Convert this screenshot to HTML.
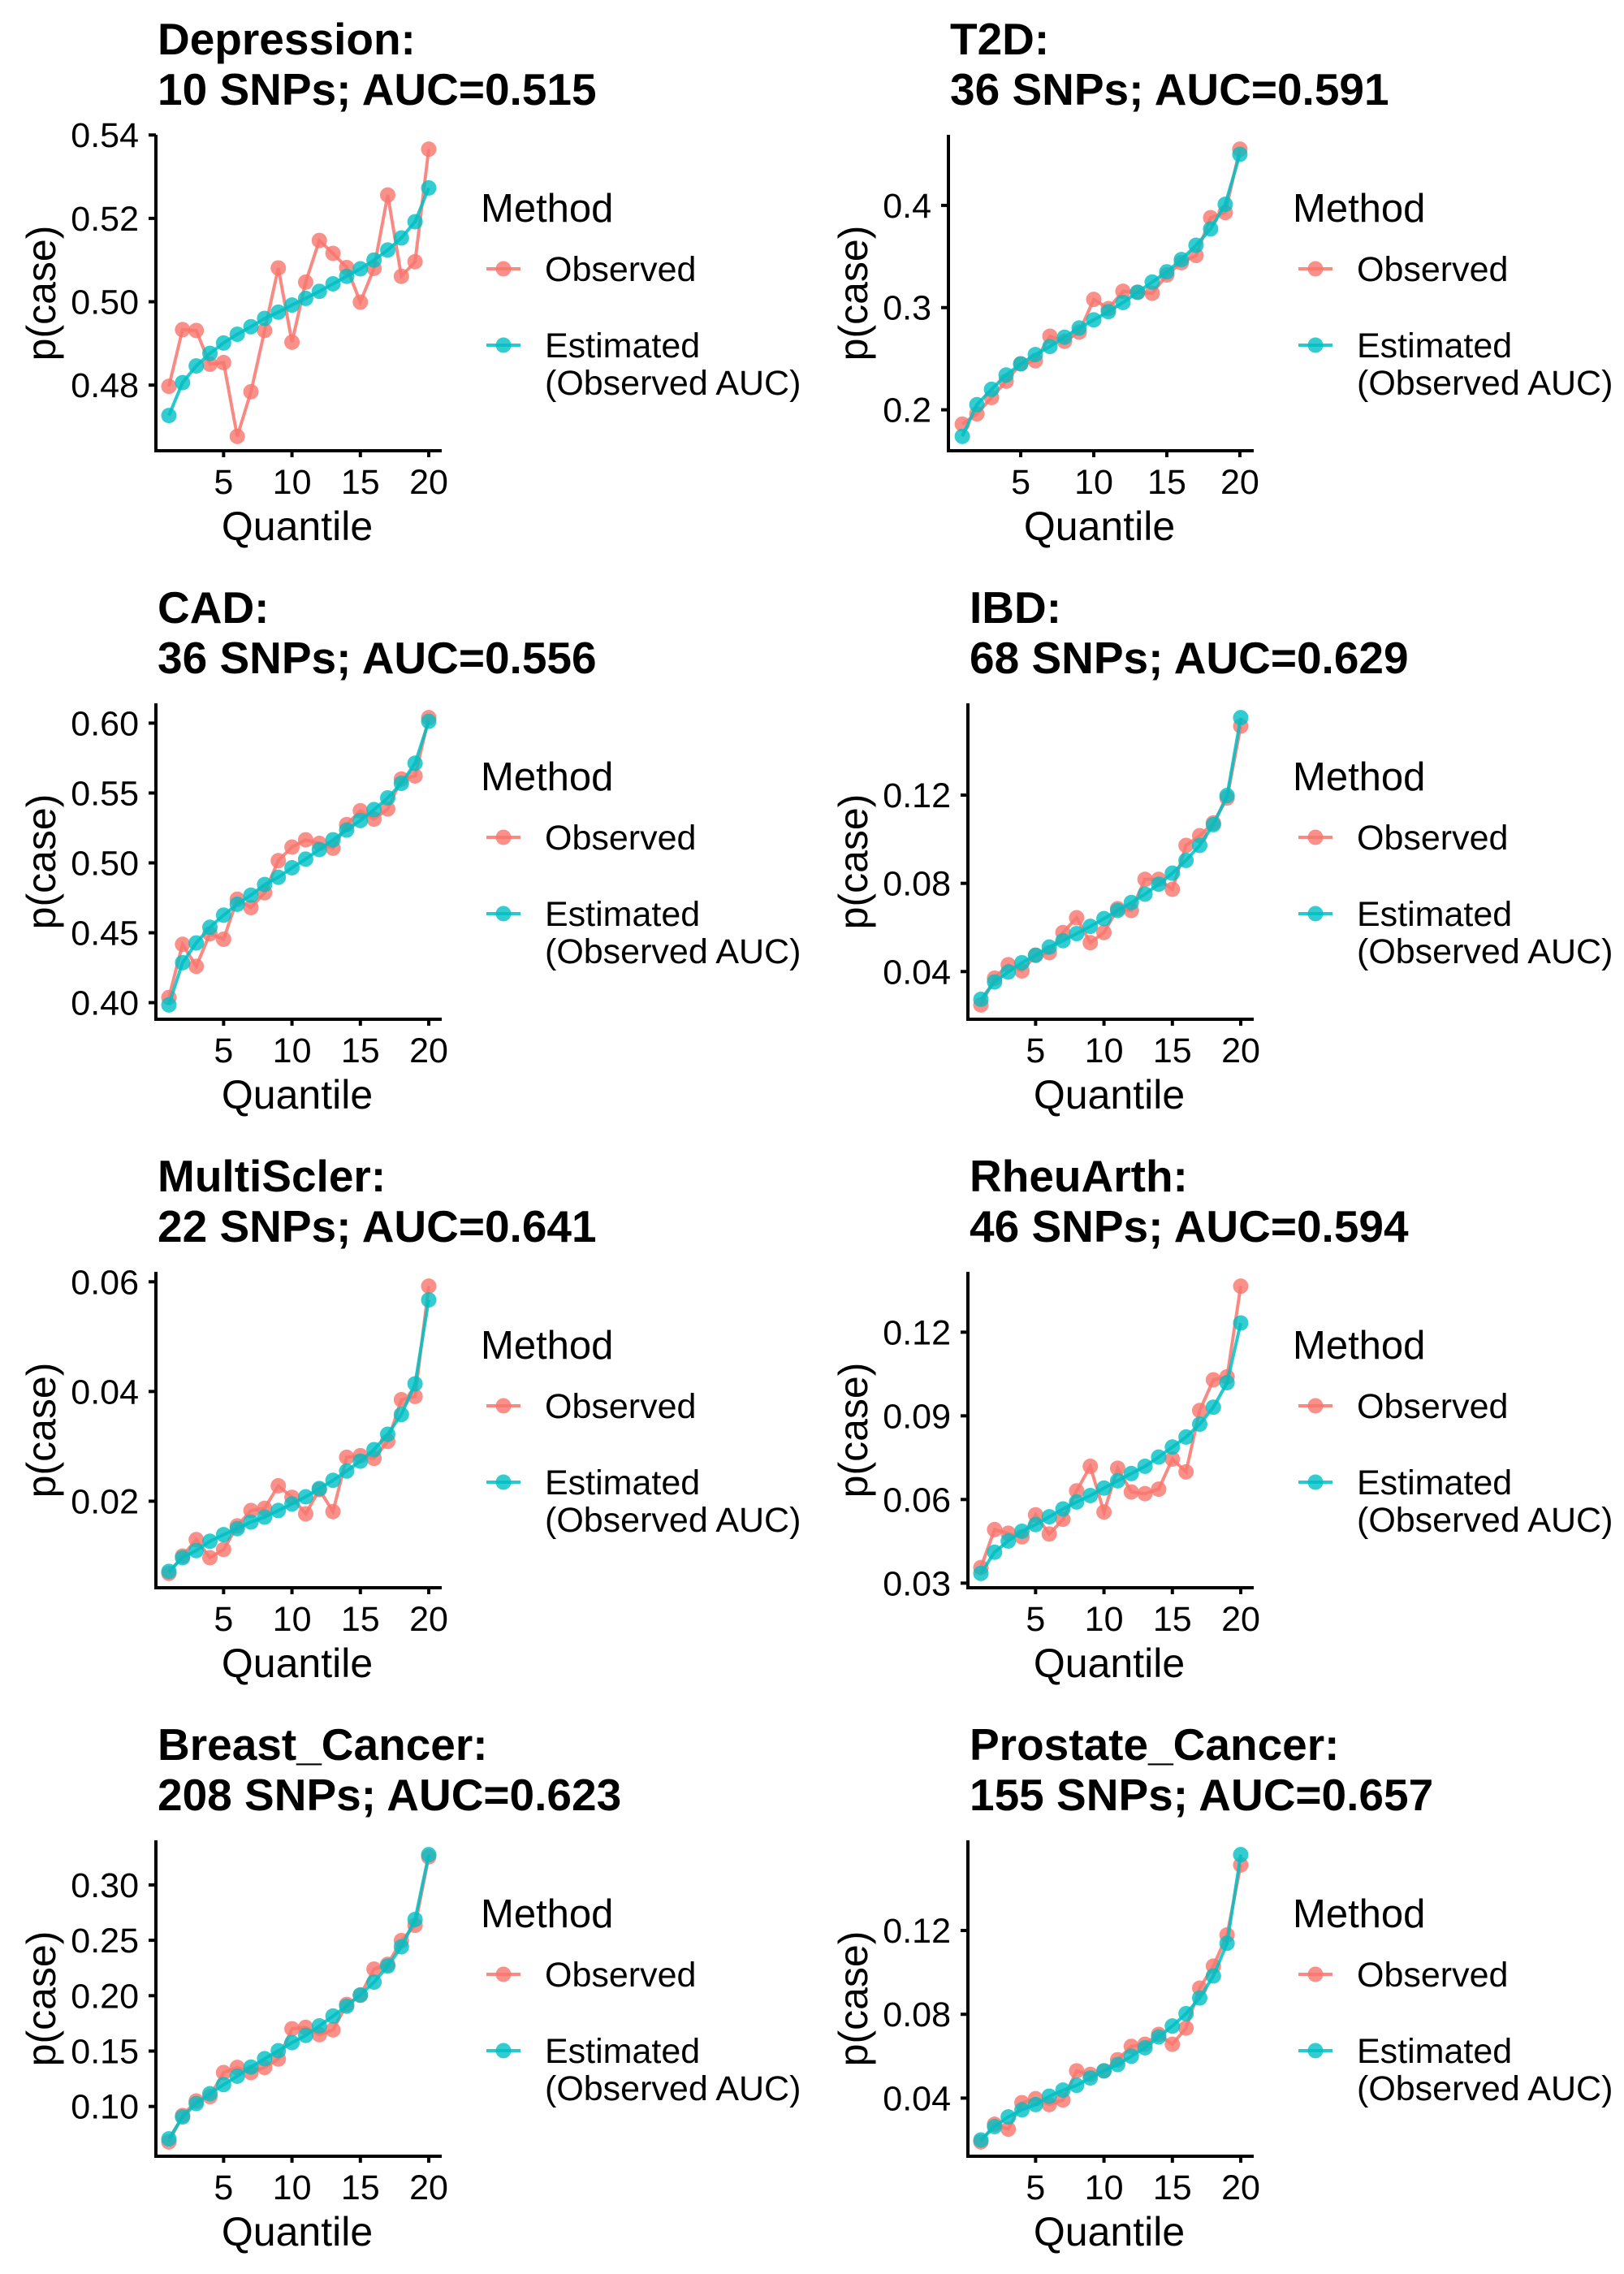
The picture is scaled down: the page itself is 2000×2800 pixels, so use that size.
<!DOCTYPE html>
<html><head><meta charset="utf-8"><style>
html,body{margin:0;padding:0;background:#fff;}
svg{display:block;}
text{font-family:"Liberation Sans",Arial,sans-serif;fill:#000;}
</style></head><body>
<svg id="fig" width="2000" height="2800" viewBox="0 0 2000 2800" xmlns="http://www.w3.org/2000/svg"></svg>
<script>
const quantiles = [1,2,3,4,5,6,7,8,9,10,11,12,13,14,15,16,17,18,19,20];
const xTicks = [5,10,15,20];
const panelNames = ["Depression","T2D","CAD","IBD","MultiScler","RheuArth","Breast_Cancer","Prostate_Cancer"];
const panelSnps = [10,36,36,68,22,46,208,155];
const panelAuc = ["0.515","0.591","0.556","0.629","0.641","0.594","0.623","0.657"];
const obsDepression = [0.4797,0.4933,0.4931,0.485,0.4854,0.4677,0.4784,0.4931,0.5081,0.4903,0.5047,0.5147,0.5116,0.5082,0.4999,0.508,0.5256,0.5061,0.5096,0.5366];
const estDepression = [0.4727,0.4806,0.4846,0.4876,0.4901,0.4922,0.494,0.496,0.4975,0.4992,0.5008,0.5025,0.5043,0.5061,0.5079,0.51,0.5124,0.5153,0.5192,0.5273];
const obsT2D = [0.186,0.196,0.212,0.228,0.245,0.248,0.272,0.267,0.276,0.308,0.299,0.316,0.315,0.314,0.332,0.344,0.351,0.388,0.393,0.455];
const estT2D = [0.174,0.205,0.220,0.234,0.245,0.254,0.262,0.271,0.280,0.288,0.296,0.305,0.315,0.325,0.335,0.347,0.361,0.377,0.401,0.450];
const obsCAD = [0.4037,0.4417,0.426,0.4493,0.4454,0.474,0.468,0.4786,0.5016,0.5113,0.5165,0.5139,0.5105,0.5274,0.5373,0.5313,0.5386,0.56,0.5622,0.6039];
const estCAD = [0.3984,0.4286,0.4427,0.4539,0.4626,0.4704,0.4769,0.4845,0.4897,0.4965,0.5027,0.5095,0.5165,0.5235,0.5303,0.5381,0.5465,0.5569,0.5713,0.6013];
const obsIBD = [0.0249,0.037,0.0431,0.0403,0.0474,0.0486,0.0577,0.0644,0.0531,0.0577,0.0685,0.0677,0.0818,0.0818,0.0773,0.0972,0.1016,0.1074,0.1187,0.1513];
const estIBD = [0.0274,0.0353,0.0398,0.044,0.0474,0.0511,0.054,0.0572,0.0605,0.064,0.0677,0.0713,0.0751,0.0796,0.0846,0.0904,0.0972,0.1066,0.1198,0.1551];
const obsMS = [0.00684,0.0100,0.0130,0.0097,0.0112,0.0155,0.0183,0.0187,0.0228,0.0207,0.0177,0.0221,0.0181,0.0280,0.0283,0.0278,0.0309,0.0385,0.0391,0.0592];
const estMS = [0.0072,0.0097,0.011,0.0127,0.0139,0.015,0.0162,0.0171,0.0183,0.0195,0.0208,0.0223,0.0238,0.0255,0.0273,0.0294,0.0322,0.0358,0.0414,0.0567];
const obsRA = [0.0356,0.0492,0.0479,0.0466,0.0545,0.0476,0.0529,0.0631,0.0719,0.0555,0.0712,0.0627,0.0621,0.0637,0.0745,0.0699,0.0919,0.1029,0.104,0.1365];
const estRA = [0.0335,0.0411,0.0451,0.0486,0.051,0.0538,0.0566,0.0591,0.0614,0.0641,0.0667,0.0693,0.0719,0.0752,0.0788,0.0824,0.087,0.0931,0.1019,0.1233];
const obsBC = [0.068,0.0918,0.1049,0.1089,0.1306,0.1352,0.1306,0.1352,0.1428,0.1701,0.1714,0.1648,0.1691,0.1921,0.2003,0.224,0.2283,0.2497,0.2635,0.3253];
const estBC = [0.0707,0.0905,0.1026,0.1115,0.1197,0.1273,0.1355,0.1431,0.1503,0.1576,0.1641,0.1727,0.1816,0.1905,0.2007,0.2122,0.2267,0.2441,0.2688,0.3273];
const obsPC = [0.0191,0.0275,0.0252,0.0378,0.0397,0.0369,0.0391,0.053,0.0513,0.053,0.0583,0.0647,0.0657,0.0704,0.0657,0.0734,0.0925,0.103,0.1179,0.1513];
const estPC = [0.02,0.0264,0.031,0.0344,0.0369,0.0409,0.0438,0.0461,0.0496,0.053,0.056,0.06,0.064,0.0692,0.0744,0.0803,0.0878,0.0983,0.1139,0.1562];
const observedSeries = [obsDepression,obsT2D,obsCAD,obsIBD,obsMS,obsRA,obsBC,obsPC];
const estimatedSeries = [estDepression,estT2D,estCAD,estIBD,estMS,estRA,estBC,estPC];
const yTickValues = [[0.48,0.50,0.52,0.54],[0.2,0.3,0.4],[0.40,0.45,0.50,0.55,0.60],[0.04,0.08,0.12],[0.02,0.04,0.06],[0.03,0.06,0.09,0.12],[0.10,0.15,0.20,0.25,0.30],[0.04,0.08,0.12]];
const yTickLabels = [["0.48","0.50","0.52","0.54"],["0.2","0.3","0.4"],["0.40","0.45","0.50","0.55","0.60"],["0.04","0.08","0.12"],["0.02","0.04","0.06"],["0.03","0.06","0.09","0.12"],["0.10","0.15","0.20","0.25","0.30"],["0.04","0.08","0.12"]];

const NS = "http://www.w3.org/2000/svg";
const svg = document.getElementById("fig");
const RED = "#F8766D", TEAL = "#00BFC4";

function mk(tag, attrs, parent) {
  const e = document.createElementNS(NS, tag);
  for (const k in attrs) e.setAttribute(k, attrs[k]);
  parent.appendChild(e);
  return e;
}
function txt(parent, x, y, s, size, anchor, weight, rot) {
  const t = mk("text", {transform: "translate(" + x + "," + y + ")" + (rot ? " rotate(-90)" : ""), "font-size": size, "text-anchor": anchor, "font-weight": weight}, parent);
  t.textContent = s;
  return t;
}

for (let p = 0; p < 8; p++) {
  const ox = (p % 2) * 1000, oy = Math.floor(p / 2) * 700;
  const g = mk("g", {transform: "translate(" + ox + "," + oy + ")"}, svg);
  
  
  const labs = yTickLabels[p];
  const maxLen = Math.max(...labs.map(l => l.length));
  const axL = maxLen === 3 ? 168 : 192;
  const axR = 544, top = 166, bot = 555;
  const xOf = q => axL + (q - 1 + 0.95) * (axR - axL) / 20.9;
  const all = observedSeries[p].concat(estimatedSeries[p]);
  const mn = Math.min(...all), mx = Math.max(...all), pad = (mx - mn) * 0.05;
  const yOf = v => bot - (v - (mn - pad)) / ((mx + pad) - (mn - pad)) * (bot - top);

  const t1 = txt(g, axL + 2, 67, panelNames[p] + ":", 55, "start", "bold");
  
  
  const t2 = txt(g, axL + 2, 129, panelSnps[p] + " SNPs; AUC=" + panelAuc[p], 55, "start", "bold");
  
  

  const ya = mk("line", {x1: axL, y1: top, x2: axL, y2: bot + 2, stroke: "#000", "stroke-width": 4}, g);
  
  
  const xa = mk("line", {x1: axL - 2, y1: bot, x2: axR, y2: bot, stroke: "#000", "stroke-width": 4}, g);
  
  

  yTickValues[p].forEach((v, i) => {
    const y = yOf(v);
    const tk = mk("line", {x1: axL - 9, y1: y, x2: axL, y2: y, stroke: "#000", "stroke-width": 4}, g);
    
    
    const tl = txt(g, axL - 21, y + 15, labs[i], 43, "end", "normal");
    
    
  });
  xTicks.forEach(q => {
    const x = xOf(q);
    const tk = mk("line", {x1: x, y1: bot, x2: x, y2: bot + 8, stroke: "#000", "stroke-width": 4}, g);
    
    
    const tl = txt(g, x, 608, String(q), 43, "middle", "normal");
    
    
  });
  const xt = txt(g, (axL + axR) / 2 - 2, 665, "Quantile", 50, "middle", "normal");
  
  
  const yt = txt(g, 68, 361, "p(case)", 50, "middle", "normal", true);
  
  

  [[observedSeries[p], RED, "observed"], [estimatedSeries[p], TEAL, "estimated"]].forEach(([vals, col, nm]) => {
    const pts = vals.map((v, i) => xOf(quantiles[i]).toFixed(1) + "," + yOf(v).toFixed(1)).join(" ");
    const ln = mk("polyline", {points: pts, fill: "none", stroke: col, "stroke-width": 4, "stroke-opacity": 0.85}, g);
    
    
    vals.forEach((v, i) => {
      const c = mk("circle", {cx: xOf(quantiles[i]), cy: yOf(v), r: 9.5, fill: col, "fill-opacity": 0.8}, g);
      
      
    });
  });

  const lg = mk("g", {}, g);
  
  
  const lt = txt(lg, 592, 273, "Method", 49, "start", "normal");
  
  
  [[RED, 331, ["Observed"], 346], [TEAL, 425, ["Estimated", "(Observed AUC)"], 440]].forEach(([col, ky, lines, by]) => {
    const k1 = mk("line", {x1: 599, y1: ky, x2: 641, y2: ky, stroke: col, "stroke-width": 4, "stroke-opacity": 0.85}, lg);
    
    
    const k2 = mk("circle", {cx: 620, cy: ky, r: 9.5, fill: col, "fill-opacity": 0.8}, lg);
    
    
    lines.forEach((s, j) => {
      const le = txt(lg, 671, by + j * 46, s, 43, "start", "normal");
      
      
    });
  });
}
</script>
</body></html>
